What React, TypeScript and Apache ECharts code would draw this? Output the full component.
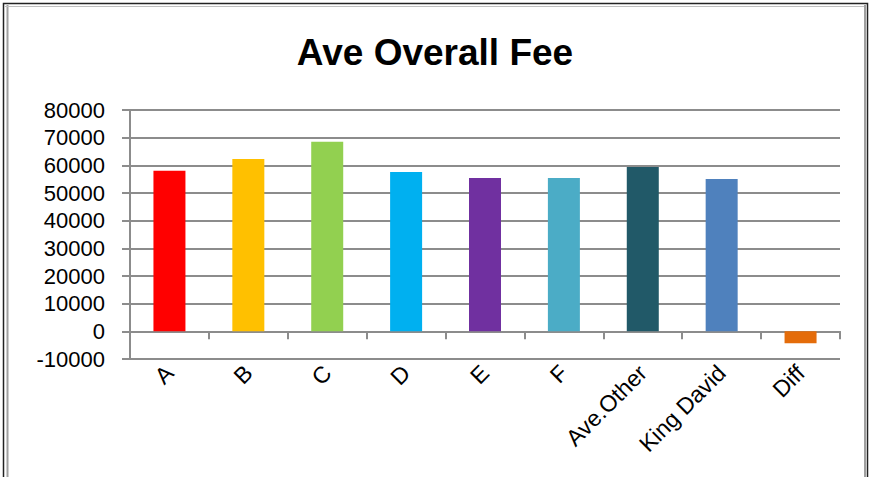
import React, { useEffect, useRef } from "react";
import * as echarts from "echarts";

const categories = ["A", "B", "C", "D", "E", "F", "Ave.Other", "King David", "Diff"];
const values = [58000, 62300, 68500, 57600, 55400, 55400, 59400, 55100, -4300];
const barColors = ["#FF0000", "#FFC000", "#92D050", "#00B0F0", "#7030A0", "#4BACC6", "#215968", "#4F81BD", "#E46C0A"];
const titleText = "Ave Overall Fee";

export default function App() {
  const ref = useRef<HTMLDivElement>(null);
  useEffect(() => {
    if (!ref.current) return;
    const chart = echarts.init(ref.current, undefined, { renderer: "svg" });
    const font = "'Liberation Sans', Arial, sans-serif";
    chart.setOption({
      animation: false,
      backgroundColor: "#ffffff",
      title: {
        text: titleText,
        left: "center",
        top: 29,
        textStyle: { fontFamily: font, fontSize: 37, fontWeight: "bold", color: "#000" },
      },
      grid: { left: 130, right: 30, top: 110, bottom: 118, containLabel: false },
      xAxis: {
        type: "category",
        data: categories,
        axisLine: { onZero: true, lineStyle: { color: "#8c8c8c", width: 2 } },
        axisTick: { show: true, length: 8, lineStyle: { color: "#8c8c8c", width: 2 } },
        axisLabel: {
          rotate: 45,
          interval: 0,
          fontFamily: font,
          fontSize: 23,
          color: "#000",
          margin: 10,
        },
      },
      yAxis: {
        type: "value",
        min: -10000,
        max: 80000,
        interval: 10000,
        axisLine: { show: true, lineStyle: { color: "#8c8c8c", width: 2 } },
        axisTick: { show: true, length: 8, lineStyle: { color: "#8c8c8c", width: 2 } },
        splitLine: { show: true, lineStyle: { color: "#8c8c8c", width: 2 } },
        axisLabel: {
          fontFamily: font,
          fontSize: 22,
          color: "#000",
          margin: 25,
          formatter: (v: number) => String(v),
        },
      },
      series: [
        {
          type: "bar",
          barWidth: 32,
          data: values.map((v, i) => ({ value: v, itemStyle: { color: barColors[i] } })),
        },
      ],
      graphic: [
        { type: "rect", shape: { x: 3.5, y: 3.5, width: 864, height: 520 }, style: { fill: "none", stroke: "#222", lineWidth: 1.5 }, silent: true },
        { type: "line", shape: { x1: 7.5, y1: 5, x2: 7.5, y2: 477 }, style: { stroke: "#a0a0a0", lineWidth: 2 }, silent: true },
        { type: "line", shape: { x1: 5, y1: 6.5, x2: 866, y2: 6.5 }, style: { stroke: "#c0c0c0", lineWidth: 1 }, silent: true },
        { type: "line", shape: { x1: 865, y1: 5, x2: 865, y2: 477 }, style: { stroke: "#a0a0a0", lineWidth: 2 }, silent: true },
      ],
    });
    return () => chart.dispose();
  }, []);
  return (
    <div
      ref={ref}
      style={{ position: "fixed", left: 0, top: 0, width: 870, height: 477 }}
    />
  );
}
